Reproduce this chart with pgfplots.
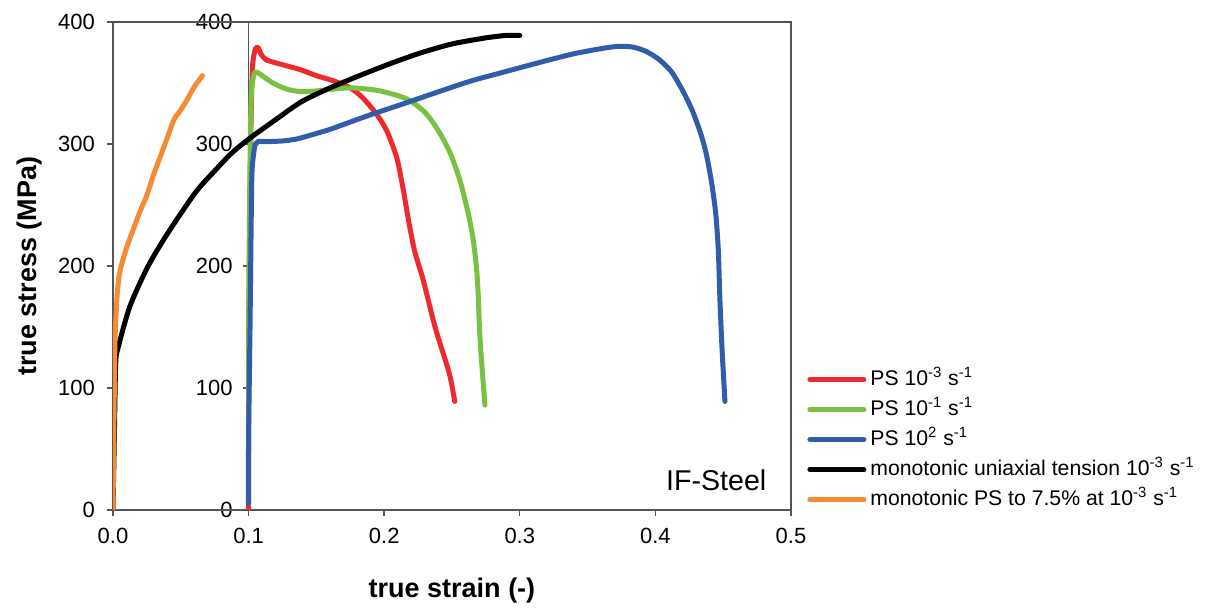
\documentclass[border=0pt]{standalone}
\usepackage{fontspec}
\setmainfont{Liberation Sans}
\usepackage{pgfplots}
\pgfplotsset{compat=1.18}

\definecolor{cred}{HTML}{EE2A2E}
\definecolor{cgreen}{HTML}{7AC143}
\definecolor{cblue}{HTML}{2F5DAA}
\definecolor{corange}{HTML}{F68B33}
\definecolor{axgray}{HTML}{555555}

\pgfplotsset{
  curve/.style={line width=2.5pt, line cap=round, line join=round, mark=none,
    smooth, tension=0.45},
}

\begin{document}
\begin{tikzpicture}
% second y axis drawn at strain 0.1
\begin{axis}[
  scale only axis,
  width=271.2pt, height=244pt,
  xshift=67.8pt,
  xmin=0, xmax=1, ymin=0, ymax=400,
  hide x axis,
  axis y line*=left,
  y axis line style={-, draw=axgray, line width=0.7pt},
  ytick={0,100,...,400},
  tick align=outside,
  major tick length=3pt,
  tick style={draw=axgray, line width=0.7pt},
  tick label style={font=\fontsize{11}{13}\selectfont},
  y tick label style={xshift=-1.5pt},
  /pgf/number format/assume math mode=true,
]
\end{axis}

\begin{axis}[
  scale only axis,
  width=339pt, height=244pt,
  xmin=0, xmax=0.5, ymin=0, ymax=400,
  xtick={0,0.1,...,0.5},
  ytick={0,100,...,400},
  xtick pos=bottom, ytick pos=left,
  tick align=outside,
  major tick length=3pt,
  axis line style={draw=axgray, line width=0.7pt},
  tick style={draw=axgray, line width=0.7pt},
  tick label style={font=\fontsize{11}{13}\selectfont},
  x tick label style={yshift=-2.5pt, /pgf/number format/.cd, fixed, fixed zerofill, precision=1},
  y tick label style={xshift=-2.5pt},
  /pgf/number format/assume math mode=true,
  xlabel={true strain (-)},
  ylabel={true stress (MPa)},
  label style={font=\fontsize{13.5}{16}\selectfont\bfseries},
  xlabel style={at={(axis description cs:0.5,-0.165)}, anchor=center},
  ylabel style={at={(axis description cs:-0.1224,0.5)}, anchor=center},
  legend style={at={(axis description cs:1,0)}, anchor=south west, xshift=5pt, yshift=-4.5pt,
    draw=none, fill=none, font=\fontsize{10.6}{12.5}\selectfont, row sep=0pt,
    nodes={inner sep=2pt, text height=8.5pt, text depth=2.5pt},
    cells={anchor=west}},
  legend image code/.code={\draw[#1, line cap=round] (0pt,0pt) -- (27pt,0pt);},
  legend cell align=left,
]
% PS 10^-3 s^-1
\addplot[curve, cred] coordinates {
 (0.1,0) (0.1,100) (0.101,250) (0.102,330) (0.103,365) (0.105,378) (0.107,379)
 (0.109,374) (0.113,369) (0.125,365) (0.138,361) (0.15,356) (0.162,352)
 (0.175,346) (0.184,338) (0.194,325) (0.2018,311) (0.2092,289) (0.214,263)
 (0.218,237) (0.2225,212) (0.2289,188) (0.2375,150) (0.248,112) (0.252,89)
};
\addlegendentry{PS 10\textsuperscript{-3} s\textsuperscript{-1}}
% PS 10^-1 s^-1
\addplot[curve, cgreen] coordinates {
 (0.1,5) (0.1,150) (0.101,280) (0.102,340) (0.104,357) (0.106,359) (0.11,356)
 (0.118,350) (0.128,345) (0.138,343) (0.15,343.5) (0.1625,345) (0.175,346)
 (0.188,345) (0.199,343) (0.2166,337) (0.23,326) (0.2399,311) (0.2485,293)
 (0.2559,270) (0.262,243) (0.2657,221) (0.2682,197) (0.2694,175) (0.2703,148)
 (0.2718,122) (0.2743,86)
};
\addlegendentry{PS 10\textsuperscript{-1} s\textsuperscript{-1}}
% PS 10^2 s^-1
\addplot[curve, cblue] coordinates {
 (0.0998,5) (0.1,60) (0.101,145) (0.1023,268) (0.1035,290) (0.105,300)
 (0.107,302) (0.115,302) (0.125,302.5) (0.135,304) (0.145,307) (0.16,312)
 (0.175,318) (0.19,324) (0.2116,332) (0.23,339) (0.2485,346) (0.265,352)
 (0.285,358) (0.305,364) (0.322,369) (0.34,374) (0.359,378) (0.372,380)
 (0.383,379.5) (0.393,376) (0.403,369) (0.412,359) (0.42,344) (0.427,328)
 (0.433,310) (0.4375,292) (0.4415,268) (0.4445,243) (0.4464,213)
 (0.4475,175) (0.4492,131) (0.4513,89)
};
\addlegendentry{PS 10\textsuperscript{2} s\textsuperscript{-1}}
% monotonic uniaxial tension
\addplot[curve, black] coordinates {
 (0,0) (0.001,60) (0.002,120) (0.004,134) (0.0125,167) (0.025,198) (0.037,221)
 (0.05,243) (0.062,262) (0.075,278) (0.087,292) (0.1,304) (0.12,320)
 (0.138,334) (0.156,344) (0.175,353) (0.2,364) (0.225,374) (0.25,382)
 (0.275,387) (0.29,389) (0.3,389)
};
\addlegendentry{monotonic uniaxial tension 10\textsuperscript{-3} s\textsuperscript{-1}}
% monotonic PS to 7.5%
\addplot[curve, corange] coordinates {
 (0,0) (0.0005,50) (0.001,100) (0.0015,140) (0.003,175) (0.005,195) (0.01,215)
 (0.015,230) (0.02,245) (0.025,258) (0.03,275) (0.035,290) (0.04,305)
 (0.045,320) (0.05,328) (0.055,337) (0.06,347) (0.066,356)
};
\addlegendentry{monotonic PS to 7.5\% at 10\textsuperscript{-3} s\textsuperscript{-1}}

\node[anchor=base east, font=\fontsize{14.3}{17}\selectfont] at (axis cs:0.487,16) {IF-Steel};
\end{axis}
\path (-56.5pt,-45pt) rectangle (546.5pt,255pt);
\end{tikzpicture}
\end{document}
